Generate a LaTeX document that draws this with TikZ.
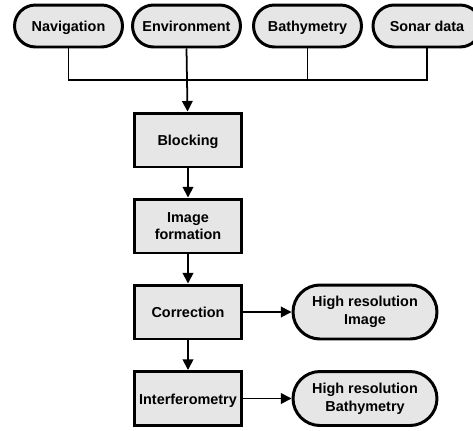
\documentclass[tikz,border=0pt]{standalone}
\usepackage{fontspec}
\setmainfont{Liberation Sans}
\usetikzlibrary{arrows.meta}
\definecolor{boxgray}{HTML}{E6E6E6}
\tikzset{
    source/.style={draw, line width=1.7pt, fill=boxgray, rounded corners=0.42cm,
        minimum width=2.16cm, minimum height=0.84cm, inner sep=1pt, align=center,
        font=\fontsize{8.2}{10}\selectfont\bfseries},
    stage/.style={draw, line width=1.7pt, fill=boxgray,
        minimum width=2.16cm, minimum height=1.08cm, inner sep=1pt, align=center,
        font=\fontsize{8.2}{10}\selectfont\bfseries},
    oneline/.style={text height=1.6ex, text depth=0.4ex},
    result/.style={source, rounded corners=0.54cm, minimum width=2.88cm, minimum height=1.08cm},
    flow/.style={line width=1pt, -{Triangle[length=6pt, width=6pt]}},
    wire/.style={line width=1pt}
}
\begin{document}
\begin{tikzpicture}[x=0.02cm, y=-0.02cm]
        \useasboundingbox (0,0) rectangle (473,430);

        \node[source, oneline] (nav) at (68.5,26){Navigation};
        \node[source, oneline] (env) at (186.5,26){Environment};
        \node[source, oneline] (bat) at (307.5,26){Bathymetry};
        \node[source, oneline] (sonar) at (427,26){Sonar data};
        \coordinate (bus) at (187,80);

        \node[stage, oneline] (block) at (188,140){Blocking};
        \node[stage] (imgform) at (188,226){Image\\formation};
        \node[stage, oneline] (corr) at (188,312){Correction};
        \node[stage, oneline] (interf) at (188,398.5){Interferometry};

        \node[result] (hiimg) at (365,312){High resolution\\Image};
        \node[result] (hibathy) at (365,398.5){High resolution\\Bathymetry};

        \draw[wire](nav.south) |- (sonar.south |- bus) -- (sonar.south);
        \draw[wire](env.south) -- (bus);
        \draw[wire](bat.south) -- (bat.south |- bus);

        \draw[flow](bus) -- (block);
        \draw[flow](block) -- (imgform);
        \draw[flow](imgform) -- (corr);
        \draw[flow](corr) -- (interf);
        \draw[flow](corr) -- (hiimg);
        \draw[flow](interf) -- (hibathy);
    \end{tikzpicture}
\end{document}
